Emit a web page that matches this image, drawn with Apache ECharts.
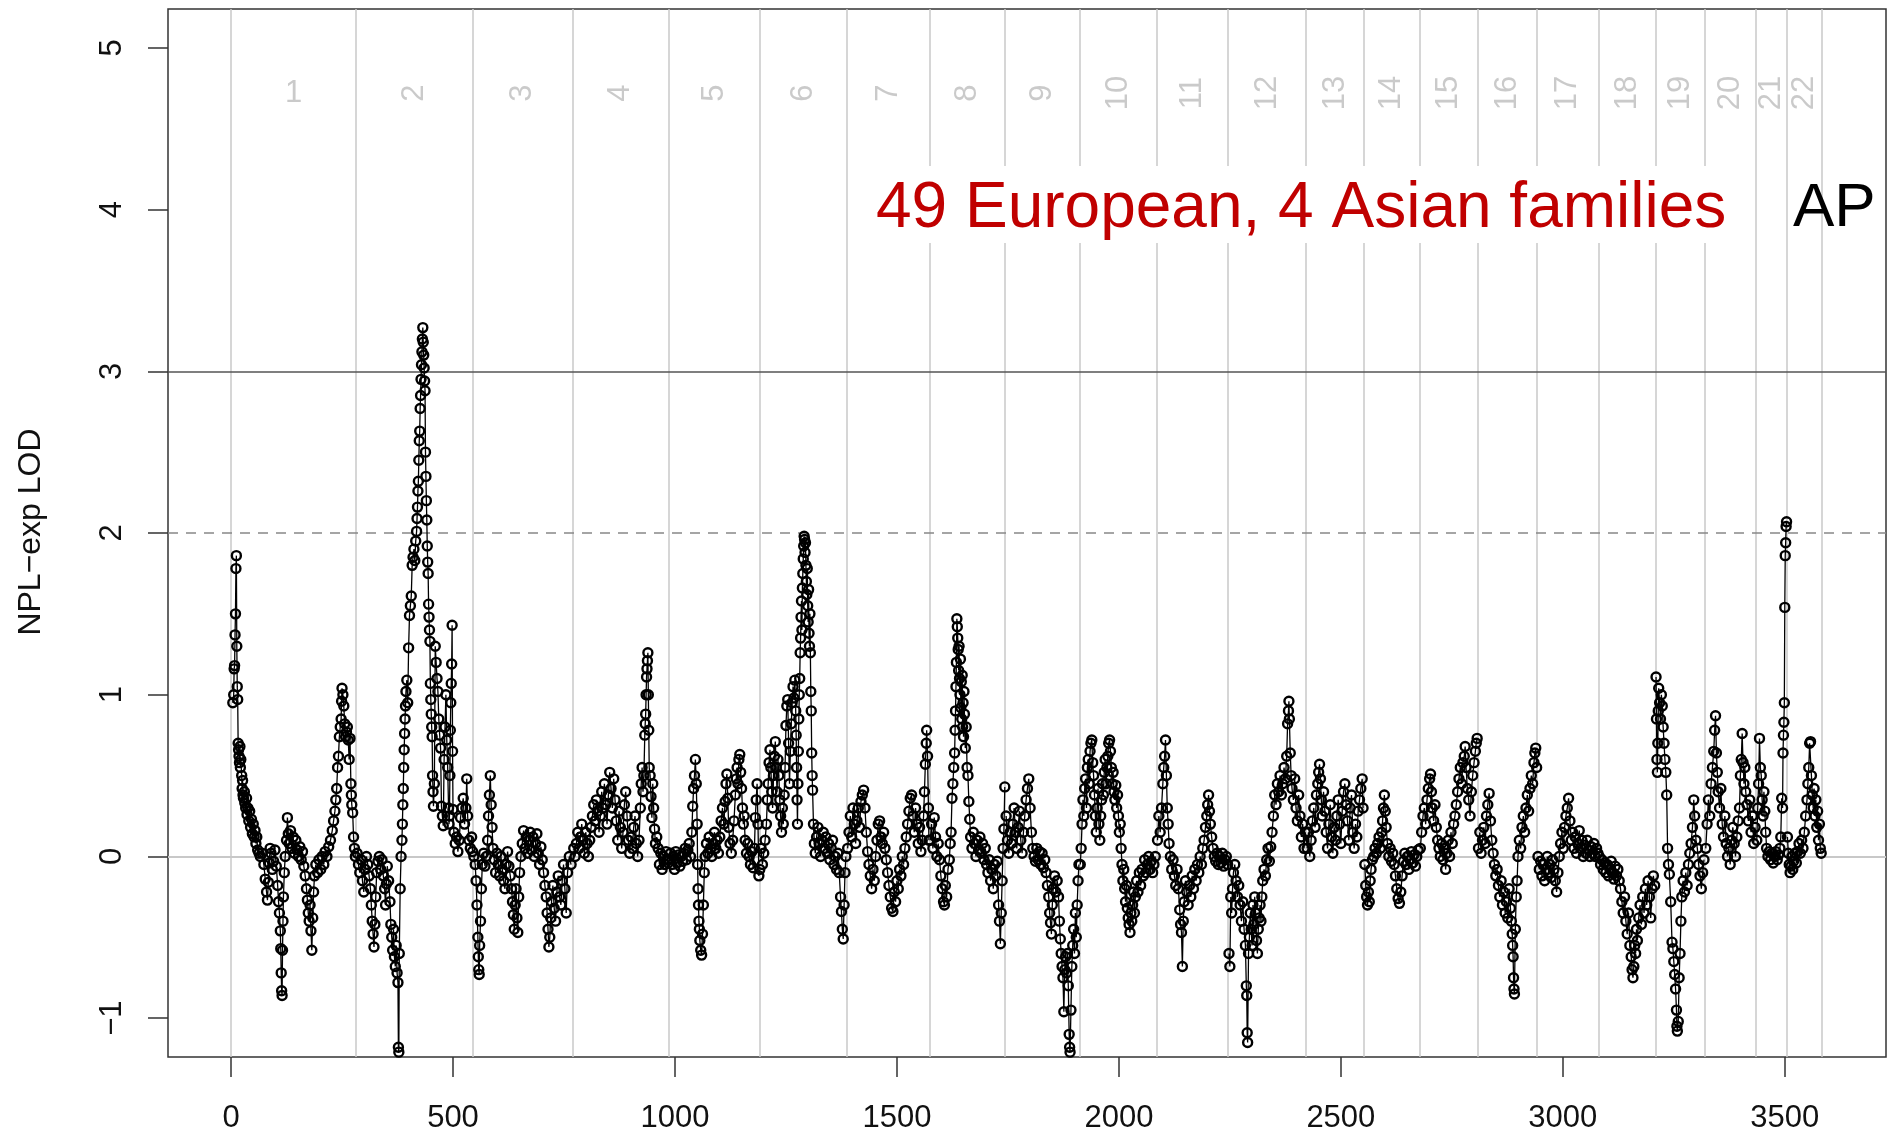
<!DOCTYPE html>
<html><head><meta charset="utf-8">
<script src="https://cdn.jsdelivr.net/npm/echarts@6/dist/echarts.min.js"></script>
<style>html,body{margin:0;padding:0;background:#fff}#c{width:1887px;height:1138px}</style>
</head><body><div id="c"></div>
<script>
const chrBounds = [0,282,545,770,985,1192,1387,1573,1744,1911,2085,2246,2422,2552,2677,2809,2942,3080,3209,3320,3435,3504,3584];
const chrNames = ['1','2','3','4','5','6','7','8','9','10','11','12','13','14','15','16','17','18','19','20','21','22'];
const xTicks = [0,500,1000,1500,2000,2500,3000,3500];
const yTicks = [-1,0,1,2,3,4,5];
const titleText = '49 European, 4 Asian families';
const tagText = 'AP';
const yTitle = 'NPL\u2212exp LOD';

const chr1 = [[4,0.95],[6,1.00],[7,1.16],[8,1.18],[9,1.37],[10,1.50],[11,1.78],[12,1.86],[13,1.30],[14,1.05],[15,0.97],[16,0.70],[17,0.66],[18,0.62],[19,0.58],[20,0.68],[21,0.55],[22,0.60],[24,0.50],[25,0.42],[26,0.47],[27,0.38],[28,0.36],[30,0.40],[31,0.33],[33,0.30],[35,0.36],[36,0.26],[38,0.30],[40,0.22],[42,0.28],[44,0.18],[46,0.23],[48,0.14],[50,0.20],[52,0.12],[54,0.16],[56,0.08],[58,0.12],[60,0.04],[63,0.02],[66,0.00],[70,0.02],[74,-0.05],[77,-0.14],[80,-0.22],[82,-0.27],[84,-0.16],[86,-0.04],[88,0.05],[90,0.02],[93,-0.08],[96,-0.03],[99,0.04],[102,-0.06],[105,-0.18],[107,-0.28],[109,-0.35],[111,-0.46],[112,-0.57],[113,-0.72],[114,-0.83],[115,-0.86],[116,-0.58],[117,-0.40],[118,-0.25],[120,-0.10],[122,0.00],[125,0.10],[127,0.24],[129,0.14],[131,0.08],[134,0.16],[137,0.05],[140,0.12],[143,0.02],[146,0.10],[149,0.04],[152,0.00],[155,0.06],[158,-0.02],[161,0.03],[164,-0.06],[167,-0.12],[170,-0.20],[172,-0.27],[174,-0.35],[176,-0.40],[178,-0.30],[180,-0.46],[182,-0.58],[184,-0.38],[186,-0.22],[188,-0.12],[191,-0.05],[195,-0.10],[198,-0.02],[202,-0.08],[205,0.00],[209,-0.05],[212,0.03],[216,0.00],[220,0.06],[224,0.10],[228,0.16],[231,0.22],[234,0.28],[236,0.35],[238,0.42],[240,0.55],[242,0.62],[244,0.74],[246,0.80],[248,0.85],[249,0.96],[250,1.04],[252,1.00],[254,0.93],[256,0.82],[258,0.74],[260,0.77],[262,0.80],[264,0.72],[266,0.60],[268,0.73],[270,0.45],[271,0.38],[272,0.32],[274,0.27],[276,0.12],[278,0.05],[280,0.00]];
const chr2 = [[284,0.02],[287,-0.05],[290,-0.10],[293,-0.02],[296,-0.15],[299,-0.22],[302,-0.08],[305,0.00],[308,-0.05],[311,-0.12],[314,-0.20],[316,-0.30],[318,-0.40],[320,-0.48],[322,-0.56],[324,-0.42],[326,-0.25],[328,-0.10],[331,-0.03],[334,0.00],[337,-0.08],[340,-0.02],[343,-0.12],[346,-0.20],[348,-0.30],[350,-0.17],[352,-0.06],[355,-0.15],[358,-0.28],[360,-0.42],[362,-0.50],[364,-0.58],[366,-0.45],[368,-0.62],[370,-0.68],[372,-0.55],[374,-0.72],[376,-0.78],[377,-1.18],[378,-1.21],[379,-0.60],[381,-0.20],[383,0.00],[385,0.10],[386,0.20],[387,0.32],[388,0.42],[389,0.55],[390,0.66],[391,0.76],[392,0.85],[393,0.93],[394,1.02],[396,1.09],[398,0.95],[400,1.29],[402,1.49],[404,1.55],[406,1.61],[408,1.80],[410,1.85],[412,1.90],[414,1.83],[416,1.95],[418,2.01],[419,2.09],[420,2.16],[421,2.26],[422,2.32],[423,2.45],[424,2.57],[425,2.63],[426,2.77],[427,2.85],[428,2.95],[429,3.04],[430,3.12],[431,3.20],[432,3.27],[433,3.18],[434,3.10],[435,3.02],[436,2.94],[437,2.88],[438,2.50],[439,2.35],[440,2.20],[441,2.08],[442,1.92],[443,1.82],[444,1.75],[445,1.56],[446,1.48],[447,1.40],[448,1.33],[449,1.07],[450,0.97],[451,0.88],[452,0.80],[453,0.74],[454,0.50],[455,0.40],[456,0.31],[458,0.45],[460,1.30],[462,1.20],[464,1.10],[466,1.02],[468,0.85],[470,0.75],[472,0.67],[474,0.31],[476,0.25],[478,0.19],[480,0.60],[482,0.80],[484,1.00],[486,0.72],[488,0.55],[490,0.30],[491,0.20],[492,0.25],[493,0.50],[494,0.78],[495,0.95],[496,1.07],[497,1.19],[498,1.43],[499,0.65],[500,0.29],[502,0.15],[505,0.08],[508,0.12],[511,0.03],[514,0.10],[517,0.24],[520,0.30],[523,0.36],[526,0.20],[529,0.30],[531,0.48],[533,0.25],[536,0.10],[539,0.05],[542,0.12],[544,0.03]];
const chr3 = [[547,0.00],[550,-0.05],[552,-0.15],[554,-0.30],[556,-0.50],[557,-0.62],[558,-0.70],[559,-0.73],[560,-0.55],[562,-0.40],[564,-0.20],[566,-0.05],[569,0.02],[572,-0.06],[575,0.00],[578,0.10],[580,0.25],[582,0.38],[584,0.50],[586,0.32],[588,0.18],[590,0.05],[593,-0.02],[596,-0.10],[599,0.02],[602,-0.05],[605,-0.12],[608,0.00],[611,-0.08],[614,-0.15],[617,-0.20],[620,-0.05],[623,0.03],[626,-0.06],[629,-0.12],[632,-0.20],[634,-0.28],[636,-0.36],[638,-0.45],[640,-0.30],[642,-0.20],[644,-0.38],[646,-0.47],[648,-0.25],[650,-0.10],[653,0.00],[656,0.08],[659,0.16],[662,0.05],[665,0.12],[668,0.02],[671,0.10],[674,0.15],[677,0.04],[680,0.12],[683,0.00],[686,0.08],[689,0.14],[692,0.02],[695,-0.05],[698,0.06],[701,-0.02],[704,-0.10],[707,-0.18],[710,-0.25],[712,-0.35],[714,-0.45],[716,-0.56],[718,-0.50],[720,-0.38],[722,-0.28],[725,-0.18],[728,-0.32],[731,-0.40],[734,-0.22],[737,-0.12],[740,-0.25],[743,-0.30],[746,-0.15],[749,-0.05],[752,-0.20],[755,-0.35],[758,-0.10],[762,0.00],[766,-0.05]];
const chr4 = [[772,0.05],[775,0.00],[778,0.08],[781,0.15],[784,0.05],[787,0.12],[790,0.20],[793,0.10],[796,0.02],[799,0.15],[802,0.08],[805,0.00],[808,0.10],[811,0.18],[814,0.25],[817,0.32],[820,0.22],[823,0.35],[826,0.28],[829,0.15],[832,0.25],[835,0.40],[838,0.30],[841,0.45],[844,0.32],[847,0.20],[850,0.38],[853,0.52],[856,0.42],[859,0.30],[862,0.48],[865,0.35],[868,0.22],[871,0.10],[874,0.28],[877,0.18],[880,0.05],[883,0.15],[886,0.32],[889,0.40],[892,0.25],[895,0.10],[898,0.02],[901,0.12],[904,0.05],[907,0.18],[910,0.25],[913,0.08],[916,0.00],[919,0.10],[922,0.30],[924,0.45],[926,0.55],[928,0.40],[930,0.50],[932,0.75],[933,0.82],[934,0.88],[935,1.00],[936,1.11],[937,1.16],[938,1.21],[939,1.26],[940,1.00],[941,0.78],[942,0.55],[944,0.50],[946,0.37],[948,0.24],[950,0.45],[952,0.30],[954,0.17],[956,0.08],[959,0.12],[962,0.05],[965,-0.05],[968,0.02],[971,-0.08],[974,0.00],[977,-0.05],[980,0.03],[983,-0.02]];
const chr5 = [[987,-0.02],[990,0.02],[993,-0.05],[996,0.00],[999,-0.08],[1002,0.03],[1005,-0.04],[1008,0.01],[1011,-0.06],[1014,0.00],[1017,-0.03],[1020,0.02],[1023,0.05],[1026,-0.02],[1029,0.04],[1032,0.08],[1035,0.00],[1038,0.15],[1040,0.31],[1042,0.42],[1044,0.50],[1046,0.60],[1048,0.45],[1050,0.20],[1051,-0.05],[1052,-0.20],[1053,-0.30],[1054,-0.40],[1055,-0.45],[1056,-0.52],[1058,-0.58],[1060,-0.61],[1062,-0.48],[1064,-0.30],[1066,-0.10],[1068,0.00],[1071,0.08],[1074,0.02],[1077,0.12],[1080,0.05],[1083,0.00],[1086,0.08],[1089,0.15],[1092,0.05],[1095,0.10],[1098,0.02],[1101,0.12],[1104,0.22],[1107,0.30],[1110,0.20],[1113,0.34],[1115,0.45],[1117,0.51],[1119,0.36],[1121,0.18],[1124,0.08],[1127,0.02],[1130,0.10],[1133,0.22],[1136,0.38],[1138,0.48],[1140,0.55],[1142,0.45],[1144,0.60],[1146,0.63],[1148,0.52],[1150,0.42],[1152,0.30],[1154,0.20],[1156,0.25],[1158,0.10],[1161,0.02],[1164,0.08],[1167,0.00],[1170,-0.05],[1173,0.03],[1176,-0.07],[1179,0.05],[1181,0.24],[1183,0.35],[1185,0.45],[1187,0.20],[1189,-0.12],[1191,-0.08]];
const chr6 = [[1194,0.05],[1197,-0.05],[1200,0.02],[1203,0.10],[1206,0.20],[1208,0.35],[1210,0.45],[1212,0.58],[1214,0.66],[1216,0.55],[1218,0.40],[1220,0.30],[1222,0.50],[1224,0.62],[1226,0.71],[1228,0.55],[1230,0.40],[1232,0.60],[1234,0.50],[1236,0.35],[1238,0.25],[1240,0.15],[1242,0.30],[1244,0.20],[1246,0.38],[1248,0.55],[1250,0.81],[1252,0.93],[1254,0.97],[1256,0.70],[1258,0.45],[1260,0.65],[1262,0.82],[1264,0.95],[1266,1.05],[1268,0.98],[1270,1.09],[1272,0.90],[1273,0.75],[1274,0.55],[1275,0.35],[1276,0.20],[1277,0.45],[1278,0.65],[1279,0.85],[1280,1.00],[1281,1.10],[1282,1.26],[1283,1.35],[1284,1.48],[1285,1.58],[1286,1.40],[1287,1.66],[1288,1.75],[1289,1.84],[1290,1.92],[1291,1.98],[1292,1.96],[1293,1.88],[1294,1.94],[1295,1.80],[1296,1.70],[1297,1.62],[1298,1.78],[1299,1.55],[1300,1.45],[1301,1.65],[1302,1.38],[1303,1.30],[1304,1.50],[1305,1.26],[1306,1.02],[1307,0.90],[1308,0.64],[1309,0.50],[1310,0.41],[1312,0.20],[1314,0.08],[1316,0.02],[1319,0.12],[1322,0.18],[1325,0.08],[1328,0.00],[1331,0.10],[1334,0.15],[1337,0.05],[1340,0.12],[1343,0.02],[1346,0.08],[1349,-0.02],[1352,0.05],[1355,0.10],[1358,-0.05],[1361,0.00],[1364,-0.08],[1367,0.02],[1370,-0.10],[1373,-0.25],[1375,-0.34],[1377,-0.45],[1379,-0.51],[1381,-0.30],[1383,-0.10],[1385,0.00]];
const chr7 = [[1389,0.05],[1392,0.15],[1395,0.25],[1398,0.12],[1401,0.30],[1404,0.20],[1407,0.08],[1410,0.22],[1413,0.30],[1416,0.18],[1419,0.34],[1422,0.38],[1425,0.41],[1428,0.30],[1431,0.15],[1434,0.03],[1437,-0.05],[1440,-0.12],[1443,-0.20],[1446,-0.08],[1449,-0.15],[1452,0.00],[1455,0.10],[1458,0.20],[1461,0.22],[1464,0.12],[1467,0.08],[1470,0.15],[1473,0.05],[1476,-0.02],[1479,-0.10],[1482,-0.18],[1485,-0.25],[1488,-0.32],[1491,-0.34],[1494,-0.22],[1497,-0.28],[1500,-0.15],[1503,-0.20],[1506,-0.08],[1509,-0.12],[1512,0.00],[1515,-0.05],[1518,0.05],[1521,0.12],[1524,0.20],[1527,0.28],[1530,0.36],[1533,0.38],[1536,0.25],[1539,0.15],[1542,0.30],[1545,0.20],[1548,0.08],[1551,0.18],[1554,0.03],[1557,0.10],[1560,0.25],[1562,0.40],[1564,0.57],[1566,0.70],[1567,0.78],[1569,0.62],[1571,0.30],[1572,0.10]];
const chr8 = [[1575,0.10],[1578,0.20],[1581,0.05],[1584,0.24],[1587,0.12],[1590,0.00],[1593,0.08],[1596,-0.02],[1599,-0.12],[1602,-0.20],[1605,-0.28],[1607,-0.30],[1609,-0.18],[1612,-0.25],[1615,-0.08],[1618,-0.02],[1620,0.08],[1622,0.15],[1624,0.36],[1626,0.45],[1628,0.55],[1630,0.64],[1631,0.78],[1632,0.90],[1633,1.05],[1634,1.20],[1635,1.47],[1636,1.42],[1637,1.35],[1638,1.28],[1639,1.15],[1640,1.30],[1641,1.10],[1642,1.00],[1643,1.22],[1644,0.92],[1645,1.08],[1646,0.85],[1647,1.12],[1648,0.80],[1649,0.95],[1650,0.74],[1651,1.02],[1652,0.88],[1654,0.67],[1656,0.80],[1658,0.55],[1660,0.50],[1662,0.34],[1664,0.23],[1666,0.12],[1669,0.05],[1672,0.15],[1675,0.08],[1678,0.00],[1681,0.10],[1684,0.04],[1687,0.12],[1690,0.02],[1693,0.08],[1696,-0.02],[1699,0.05],[1702,-0.05],[1705,-0.10],[1708,-0.02],[1711,-0.15],[1714,-0.08],[1717,-0.20],[1720,-0.05],[1723,-0.12],[1726,-0.03],[1729,-0.30],[1731,-0.40],[1733,-0.54],[1735,-0.35],[1737,-0.15],[1739,0.05],[1741,0.17],[1743,0.43]];
const chr9 = [[1746,0.25],[1749,0.10],[1752,0.02],[1755,0.15],[1758,0.08],[1761,0.20],[1764,0.30],[1767,0.15],[1770,0.05],[1773,0.18],[1776,0.28],[1779,0.10],[1782,0.02],[1785,0.15],[1788,0.25],[1791,0.35],[1794,0.42],[1797,0.48],[1800,0.30],[1803,0.15],[1806,0.05],[1809,0.00],[1812,-0.03],[1815,0.05],[1818,-0.02],[1821,0.03],[1824,-0.05],[1827,0.02],[1830,-0.07],[1833,-0.02],[1836,-0.10],[1839,-0.18],[1842,-0.25],[1844,-0.35],[1846,-0.41],[1848,-0.48],[1850,-0.30],[1852,-0.20],[1855,-0.12],[1858,-0.22],[1861,-0.15],[1864,-0.25],[1866,-0.40],[1868,-0.51],[1870,-0.60],[1872,-0.68],[1874,-0.75],[1876,-0.96],[1878,-0.70],[1880,-0.62],[1882,-0.72],[1884,-0.60],[1886,-0.80],[1888,-1.10],[1889,-1.18],[1890,-1.21],[1892,-0.95],[1894,-0.68],[1896,-0.55],[1898,-0.45],[1900,-0.60],[1902,-0.35],[1904,-0.50],[1906,-0.30],[1908,-0.15],[1910,-0.05]];
const chr10 = [[1913,-0.05],[1915,0.05],[1917,0.20],[1919,0.35],[1921,0.25],[1923,0.42],[1925,0.48],[1927,0.30],[1929,0.55],[1931,0.60],[1933,0.45],[1935,0.65],[1937,0.70],[1939,0.72],[1941,0.58],[1943,0.50],[1945,0.38],[1947,0.25],[1949,0.15],[1951,0.30],[1953,0.42],[1955,0.20],[1957,0.10],[1959,0.25],[1961,0.35],[1963,0.45],[1965,0.38],[1967,0.52],[1969,0.60],[1971,0.45],[1973,0.55],[1975,0.62],[1977,0.70],[1979,0.72],[1981,0.65],[1983,0.55],[1985,0.45],[1987,0.52],[1989,0.40],[1991,0.35],[1993,0.44],[1995,0.30],[1997,0.38],[1999,0.25],[2001,0.15],[2003,0.20],[2005,0.05],[2007,-0.05],[2009,-0.15],[2011,-0.08],[2013,-0.20],[2015,-0.28],[2017,-0.18],[2019,-0.32],[2021,-0.38],[2023,-0.42],[2025,-0.47],[2027,-0.35],[2029,-0.40],[2031,-0.30],[2033,-0.22],[2035,-0.35],[2037,-0.25],[2040,-0.15],[2043,-0.22],[2046,-0.10],[2049,-0.18],[2052,-0.08],[2055,-0.12],[2058,-0.02],[2061,-0.10],[2064,-0.05],[2067,0.00],[2070,-0.08],[2073,-0.03],[2076,-0.10],[2079,-0.05],[2082,0.00]];
const chr11 = [[2087,0.10],[2090,0.25],[2093,0.15],[2096,0.30],[2099,0.45],[2101,0.55],[2103,0.62],[2105,0.72],[2107,0.50],[2109,0.30],[2111,0.20],[2113,0.08],[2116,0.00],[2119,-0.08],[2122,-0.02],[2125,-0.12],[2128,-0.18],[2131,-0.08],[2134,-0.20],[2137,-0.33],[2139,-0.42],[2141,-0.47],[2143,-0.68],[2145,-0.40],[2147,-0.28],[2150,-0.15],[2153,-0.22],[2156,-0.30],[2159,-0.18],[2162,-0.25],[2165,-0.12],[2168,-0.20],[2171,-0.08],[2174,-0.15],[2177,-0.05],[2180,-0.10],[2183,0.00],[2186,-0.05],[2189,0.05],[2192,0.10],[2195,0.18],[2198,0.25],[2200,0.32],[2202,0.38],[2204,0.28],[2206,0.20],[2209,0.12],[2212,0.05],[2215,0.00],[2218,-0.03],[2221,0.02],[2224,-0.05],[2227,0.00],[2230,-0.04],[2233,0.02],[2236,-0.06],[2239,-0.02],[2242,0.00],[2245,-0.05]];
const chr12 = [[2248,-0.60],[2250,-0.68],[2252,-0.25],[2254,-0.35],[2256,-0.20],[2258,-0.10],[2261,-0.05],[2264,-0.15],[2267,-0.25],[2270,-0.18],[2273,-0.30],[2276,-0.40],[2279,-0.28],[2282,-0.45],[2285,-0.55],[2287,-0.80],[2288,-0.86],[2289,-1.09],[2290,-1.15],[2292,-0.60],[2294,-0.50],[2296,-0.35],[2298,-0.45],[2300,-0.55],[2302,-0.30],[2304,-0.42],[2306,-0.25],[2308,-0.35],[2310,-0.52],[2312,-0.60],[2314,-0.45],[2316,-0.38],[2318,-0.30],[2320,-0.40],[2322,-0.25],[2324,-0.15],[2327,-0.08],[2330,-0.12],[2333,-0.02],[2336,0.05],[2339,-0.03],[2342,0.06],[2345,0.15],[2348,0.25],[2351,0.38],[2354,0.32],[2357,0.45],[2360,0.40],[2363,0.50],[2366,0.38],[2369,0.45],[2372,0.55],[2375,0.48],[2378,0.62],[2380,0.82],[2382,0.90],[2383,0.96],[2384,0.85],[2386,0.64],[2388,0.50],[2390,0.42],[2393,0.35],[2396,0.48],[2399,0.30],[2402,0.22],[2405,0.38],[2408,0.25],[2411,0.12],[2414,0.20],[2417,0.05],[2420,0.15]];
const chr13 = [[2424,0.05],[2427,0.15],[2430,0.00],[2433,0.10],[2436,0.22],[2439,0.30],[2442,0.18],[2445,0.38],[2448,0.45],[2450,0.52],[2452,0.57],[2454,0.48],[2456,0.35],[2458,0.25],[2461,0.40],[2464,0.28],[2467,0.15],[2470,0.05],[2473,0.20],[2476,0.32],[2479,0.12],[2482,0.02],[2485,0.18],[2488,0.10],[2491,0.25],[2494,0.35],[2497,0.20],[2500,0.08],[2503,0.28],[2506,0.40],[2509,0.45],[2512,0.32],[2515,0.22],[2518,0.10],[2521,0.30],[2524,0.38],[2527,0.15],[2530,0.05],[2533,0.20],[2536,0.12],[2539,0.28],[2542,0.35],[2545,0.42],[2548,0.48],[2550,0.30]];
const chr14 = [[2554,-0.05],[2556,-0.18],[2558,-0.25],[2560,-0.30],[2562,-0.22],[2564,-0.28],[2566,-0.15],[2568,-0.08],[2571,-0.02],[2574,0.00],[2577,0.05],[2580,0.02],[2583,0.08],[2586,0.12],[2589,0.05],[2592,0.15],[2594,0.22],[2596,0.30],[2598,0.38],[2600,0.28],[2602,0.18],[2605,0.08],[2608,0.00],[2611,0.05],[2614,-0.03],[2617,0.02],[2620,-0.05],[2623,-0.12],[2626,-0.20],[2629,-0.26],[2632,-0.29],[2635,-0.22],[2638,-0.12],[2641,-0.03],[2644,0.02],[2647,-0.05],[2650,0.00],[2653,-0.08],[2656,-0.02],[2659,0.03],[2662,-0.04],[2665,0.01],[2668,-0.06],[2671,0.00],[2674,0.04]];
const chr15 = [[2679,0.05],[2682,0.15],[2685,0.25],[2688,0.30],[2691,0.20],[2694,0.35],[2697,0.42],[2700,0.48],[2702,0.51],[2704,0.40],[2706,0.30],[2709,0.22],[2712,0.32],[2715,0.18],[2718,0.10],[2721,0.05],[2724,0.00],[2727,0.08],[2730,-0.02],[2733,0.05],[2736,-0.08],[2739,0.02],[2742,0.10],[2745,0.00],[2748,0.15],[2751,0.08],[2754,0.20],[2757,0.25],[2760,0.32],[2763,0.40],[2766,0.48],[2769,0.55],[2772,0.45],[2775,0.58],[2778,0.62],[2780,0.68],[2782,0.55],[2785,0.42],[2788,0.35],[2791,0.25],[2794,0.40],[2797,0.50],[2800,0.58],[2803,0.65],[2805,0.70],[2807,0.73]];
const chr16 = [[2810,0.05],[2813,0.15],[2816,0.02],[2819,0.10],[2822,0.18],[2825,0.08],[2828,0.25],[2831,0.32],[2834,0.39],[2837,0.22],[2840,0.10],[2843,0.02],[2846,-0.05],[2849,-0.12],[2852,-0.08],[2855,-0.18],[2858,-0.25],[2861,-0.15],[2864,-0.30],[2867,-0.22],[2870,-0.35],[2873,-0.28],[2876,-0.38],[2879,-0.20],[2882,-0.32],[2884,-0.40],[2886,-0.48],[2887,-0.55],[2888,-0.62],[2889,-0.75],[2890,-0.82],[2891,-0.85],[2893,-0.45],[2895,-0.25],[2897,-0.15],[2899,0.00],[2902,0.10],[2905,0.05],[2908,0.18],[2911,0.25],[2914,0.15],[2917,0.30],[2920,0.38],[2923,0.28],[2926,0.42],[2929,0.50],[2932,0.45],[2935,0.58],[2937,0.64],[2939,0.67],[2941,0.55]];
const chr17 = [[2944,0.00],[2947,-0.08],[2950,-0.03],[2953,-0.12],[2956,-0.05],[2959,-0.15],[2962,-0.08],[2965,0.00],[2968,-0.10],[2971,-0.05],[2974,-0.13],[2977,-0.02],[2980,-0.08],[2983,-0.15],[2986,-0.22],[2989,-0.10],[2992,0.00],[2995,0.08],[2998,0.15],[3001,0.05],[3004,0.18],[3007,0.25],[3010,0.30],[3013,0.36],[3016,0.22],[3019,0.10],[3022,0.15],[3025,0.05],[3028,0.12],[3031,0.02],[3034,0.08],[3037,0.16],[3040,0.05],[3043,0.10],[3046,0.00],[3049,0.07],[3052,0.02],[3055,0.10],[3058,0.04],[3061,0.00],[3064,0.06],[3067,0.02],[3070,0.08],[3073,0.00],[3076,0.05],[3079,0.02]];
const chr18 = [[3082,0.00],[3085,-0.05],[3088,-0.02],[3091,-0.08],[3094,-0.04],[3097,-0.10],[3100,-0.05],[3103,-0.12],[3106,-0.08],[3109,-0.03],[3112,-0.10],[3115,-0.14],[3118,-0.06],[3121,-0.12],[3124,-0.08],[3127,-0.15],[3130,-0.20],[3133,-0.28],[3136,-0.35],[3139,-0.25],[3142,-0.40],[3145,-0.48],[3148,-0.35],[3151,-0.55],[3154,-0.62],[3156,-0.70],[3158,-0.75],[3160,-0.68],[3162,-0.55],[3164,-0.60],[3166,-0.45],[3168,-0.52],[3171,-0.38],[3174,-0.30],[3177,-0.42],[3180,-0.25],[3183,-0.35],[3186,-0.20],[3189,-0.30],[3192,-0.15],[3195,-0.25],[3198,-0.38],[3201,-0.20],[3204,-0.12],[3207,-0.18]];
const chr19 = [[3210,1.11],[3211,0.85],[3212,0.60],[3213,0.52],[3214,0.70],[3215,0.90],[3216,1.04],[3218,0.95],[3220,0.85],[3222,1.00],[3224,0.93],[3226,0.80],[3228,0.70],[3230,0.60],[3232,0.52],[3234,0.38],[3236,0.05],[3238,-0.05],[3240,-0.11],[3243,-0.28],[3246,-0.53],[3248,-0.57],[3250,-0.65],[3252,-0.73],[3254,-0.82],[3256,-0.95],[3257,-1.05],[3258,-1.08],[3260,-1.02],[3262,-0.75],[3264,-0.60],[3266,-0.40],[3268,-0.25],[3271,-0.15],[3274,-0.22],[3277,-0.10],[3280,-0.18],[3283,-0.05],[3286,0.02],[3289,0.08],[3292,0.18],[3295,0.35],[3297,0.25],[3300,0.10],[3303,0.05],[3306,-0.05],[3309,-0.12],[3312,-0.20],[3315,-0.10],[3318,-0.02]];
const chr20 = [[3322,0.05],[3325,0.20],[3328,0.35],[3331,0.25],[3334,0.45],[3337,0.55],[3340,0.65],[3342,0.78],[3344,0.87],[3346,0.64],[3348,0.52],[3350,0.40],[3353,0.30],[3356,0.42],[3359,0.20],[3362,0.12],[3365,0.25],[3368,0.08],[3371,0.00],[3374,0.05],[3377,-0.05],[3380,0.10],[3383,0.18],[3386,0.08],[3389,0.00],[3392,0.12],[3395,0.22],[3398,0.30],[3400,0.50],[3402,0.60],[3404,0.76],[3406,0.58],[3408,0.45],[3410,0.55],[3412,0.40],[3415,0.32],[3418,0.22],[3421,0.35],[3424,0.15],[3427,0.25],[3430,0.08],[3433,0.18]];
const chr21 = [[3437,0.10],[3439,0.30],[3441,0.45],[3443,0.73],[3445,0.55],[3447,0.50],[3449,0.35],[3451,0.25],[3453,0.40],[3455,0.28],[3457,0.15],[3459,0.05],[3462,0.00],[3465,0.03],[3468,-0.02],[3471,0.02],[3474,-0.04],[3477,0.00],[3480,0.03],[3483,-0.02],[3486,0.01],[3489,0.05],[3491,0.12],[3493,0.36],[3495,0.30],[3496,0.64],[3497,0.75],[3498,0.83],[3499,0.95],[3500,1.54],[3501,1.86],[3502,1.94],[3503,2.04],[3504,2.07]];
const chr22 = [[3506,0.12],[3508,0.02],[3510,-0.05],[3512,-0.10],[3514,-0.06],[3516,0.00],[3518,-0.08],[3520,-0.03],[3523,0.02],[3526,-0.04],[3529,0.03],[3532,0.08],[3535,0.02],[3538,0.10],[3541,0.05],[3544,0.15],[3547,0.25],[3550,0.35],[3552,0.45],[3554,0.55],[3556,0.70],[3558,0.71],[3560,0.50],[3562,0.38],[3564,0.30],[3566,0.42],[3568,0.25],[3570,0.35],[3572,0.18],[3574,0.28],[3576,0.10],[3578,0.20],[3580,0.05],[3582,0.02]];

const chromosomes = [chr1,chr2,chr3,chr4,chr5,chr6,chr7,chr8,chr9,chr10,chr11,chr12,chr13,chr14,chr15,chr16,chr17,chr18,chr19,chr20,chr21,chr22];

const FONT = '"Liberation Sans", Arial, Helvetica, sans-serif';
const chart = echarts.init(document.getElementById('c'), null, {renderer:'canvas'});

const pointSeries = chromosomes.map(d => ({
  type:'line', data:d, symbol:'circle', symbolSize:9, showSymbol:true,
  lineStyle:{color:'#000', width:1.3},
  itemStyle:{color:'rgba(0,0,0,0)', borderColor:'#000', borderWidth:2.4},
  z:5, silent:true, animation:false, emphasis:{disabled:true}
}));

const labelSeries = {
  type:'scatter', z:2, silent:true, animation:false, symbolSize:1,
  itemStyle:{color:'rgba(0,0,0,0)'},
  label:{show:true, position:'inside', formatter:'{b}', color:'#bdbdbd', fontSize:31, fontFamily:FONT},
  data: chrNames.map((n,i) => ({name:n, value:[(chrBounds[i]+chrBounds[i+1])/2, 4.72], label:{rotate: i===0 ? 0 : 90}})),
  markLine:{
    silent:true, animation:false, symbol:['none','none'], label:{show:false},
    data: chrBounds.map(b => ({xAxis:b, lineStyle:{color:'#c8c8c8', width:1.5, type:'solid'}})).concat([
      {yAxis:0, lineStyle:{color:'#c8c8c8', width:2, type:'solid'}},
      {yAxis:2, lineStyle:{color:'#888888', width:1.6, type:[10,8]}},
      {yAxis:3, lineStyle:{color:'#555555', width:1.6, type:'solid'}}
    ])
  }
};

chart.setOption({
  animation:false,
  backgroundColor:'#fff',
  grid:{left:168, top:9, width:1718, height:1048, show:true, borderColor:'#333', borderWidth:1.5, containLabel:false},
  xAxis:{type:'value', min:-142, max:3728,
    axisLine:{show:false, onZero:false}, splitLine:{show:false},
    axisTick:{show:true, length:20, customValues:xTicks, lineStyle:{color:'#333', width:1.5}},
    axisLabel:{show:true, customValues:xTicks, margin:46, fontSize:31, color:'#111', fontFamily:FONT, formatter: v => String(v)}
  },
  yAxis:{type:'value', min:-1.24, max:5.24,
    axisLine:{show:false, onZero:false}, splitLine:{show:false},
    axisTick:{show:true, length:20, customValues:yTicks, lineStyle:{color:'#333', width:1.5}},
    axisLabel:{show:true, customValues:yTicks, rotate:90, margin:40, fontSize:31, color:'#111', fontFamily:FONT, formatter: v => String(v).replace('-', '\u2212')}
  },
  graphic:[
    {type:'rect', z:50, silent:true, shape:{x:866, y:166, width:864, height:77}, style:{fill:'#fff'}},
    {type:'text', z:51, silent:true, x:876, y:209, style:{text:titleText, fill:'#c00000', font:'64px '+FONT, textAlign:'left', textVerticalAlign:'middle'}},
    {type:'text', z:51, silent:true, x:1793, y:209, style:{text:tagText, fill:'#000', font:'62px '+FONT, textAlign:'left', textVerticalAlign:'middle'}},
    {type:'text', z:51, silent:true, x:31, y:532, rotation:Math.PI/2, style:{text:yTitle, fill:'#111', font:'32px '+FONT, textAlign:'center', textVerticalAlign:'middle'}}
  ],
  series:[labelSeries].concat(pointSeries)
});
</script>
</body></html>
